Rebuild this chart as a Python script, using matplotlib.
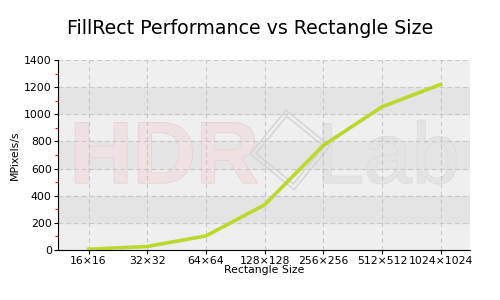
import numpy as np
import matplotlib.pyplot as plt
import matplotlib.patheffects as pe
from matplotlib.patches import RegularPolygon

# Data
sizes = ['16×16', '32×32', '64×64', '128×128', '256×256', '512×512', '1024×1024']
mpixels = [5, 25, 103, 332, 770, 1055, 1220]

y_ticks = [0, 200, 400, 600, 800, 1000, 1200, 1400]
bands = [(200, 400), (600, 800), (1000, 1200)]

fig = plt.figure(figsize=(5, 3), dpi=100)
ax = fig.add_axes([0.116, 0.167, 0.824, 0.633])

x = np.arange(len(sizes))

# background and alternate bands
ax.set_facecolor('#efefef')
for lo, hi in bands:
    ax.axhspan(lo, hi, color='#e4e4e4', zorder=0)

# faint watermark: "HDR", logo diamond, "Lab"
ytr = ax.get_yaxis_transform()
ax.text(0.028, 494, 'HDR', transform=ytr, fontsize=63, fontweight='bold',
        family='Liberation Sans', color='#efe1e1', va='baseline', ha='left',
        zorder=0.2, path_effects=[pe.withStroke(linewidth=1.0, foreground='#e9d0d0')])
ax.text(0.975, 494, 'Lab', transform=ytr, fontsize=62,
        family='Liberation Sans', color='#e3e3e3', va='baseline', ha='right',
        zorder=0.2, path_effects=[pe.withStroke(linewidth=1.0, foreground='#dbdbdb')])
for r in (0.40, 0.34):
    ax.add_patch(RegularPolygon((2.9, 1.5), 4, radius=r, orientation=0.1,
                                transform=fig.dpi_scale_trans, fill=False,
                                edgecolor='#d6d6d6', linewidth=1.1, zorder=0.2))

ax.grid(True, color='#c8c8c8', linestyle=(0, (4, 3)), linewidth=0.8)
ax.set_axisbelow(True)

ax.plot(x, mpixels, color='#b9d92c', linewidth=2.6, zorder=3)

ax.set_xlim(-0.52, 6.5)
ax.set_ylim(0, 1400)
ax.set_xticks(x)
ax.set_xticklabels(sizes, fontsize=7.8)
ax.set_yticks(y_ticks)
ax.set_yticklabels([str(v) for v in y_ticks], fontsize=7.8)
ax.set_yticks(np.arange(100, 1400, 200), minor=True)
ax.tick_params(axis='y', which='minor', length=2, color='red', width=0.8)
ax.tick_params(axis='both', which='major', length=3, pad=1.5)

for s in ['top', 'right']:
    ax.spines[s].set_visible(False)

ax.set_xlabel('Rectangle Size', fontsize=7.8, labelpad=-1)
ax.set_ylabel('MPixels/s', fontsize=7.8, labelpad=3)

fig.suptitle('FillRect Performance vs Rectangle Size', fontsize=13.7, y=0.935)

fig.savefig('out.png', dpi=100)
